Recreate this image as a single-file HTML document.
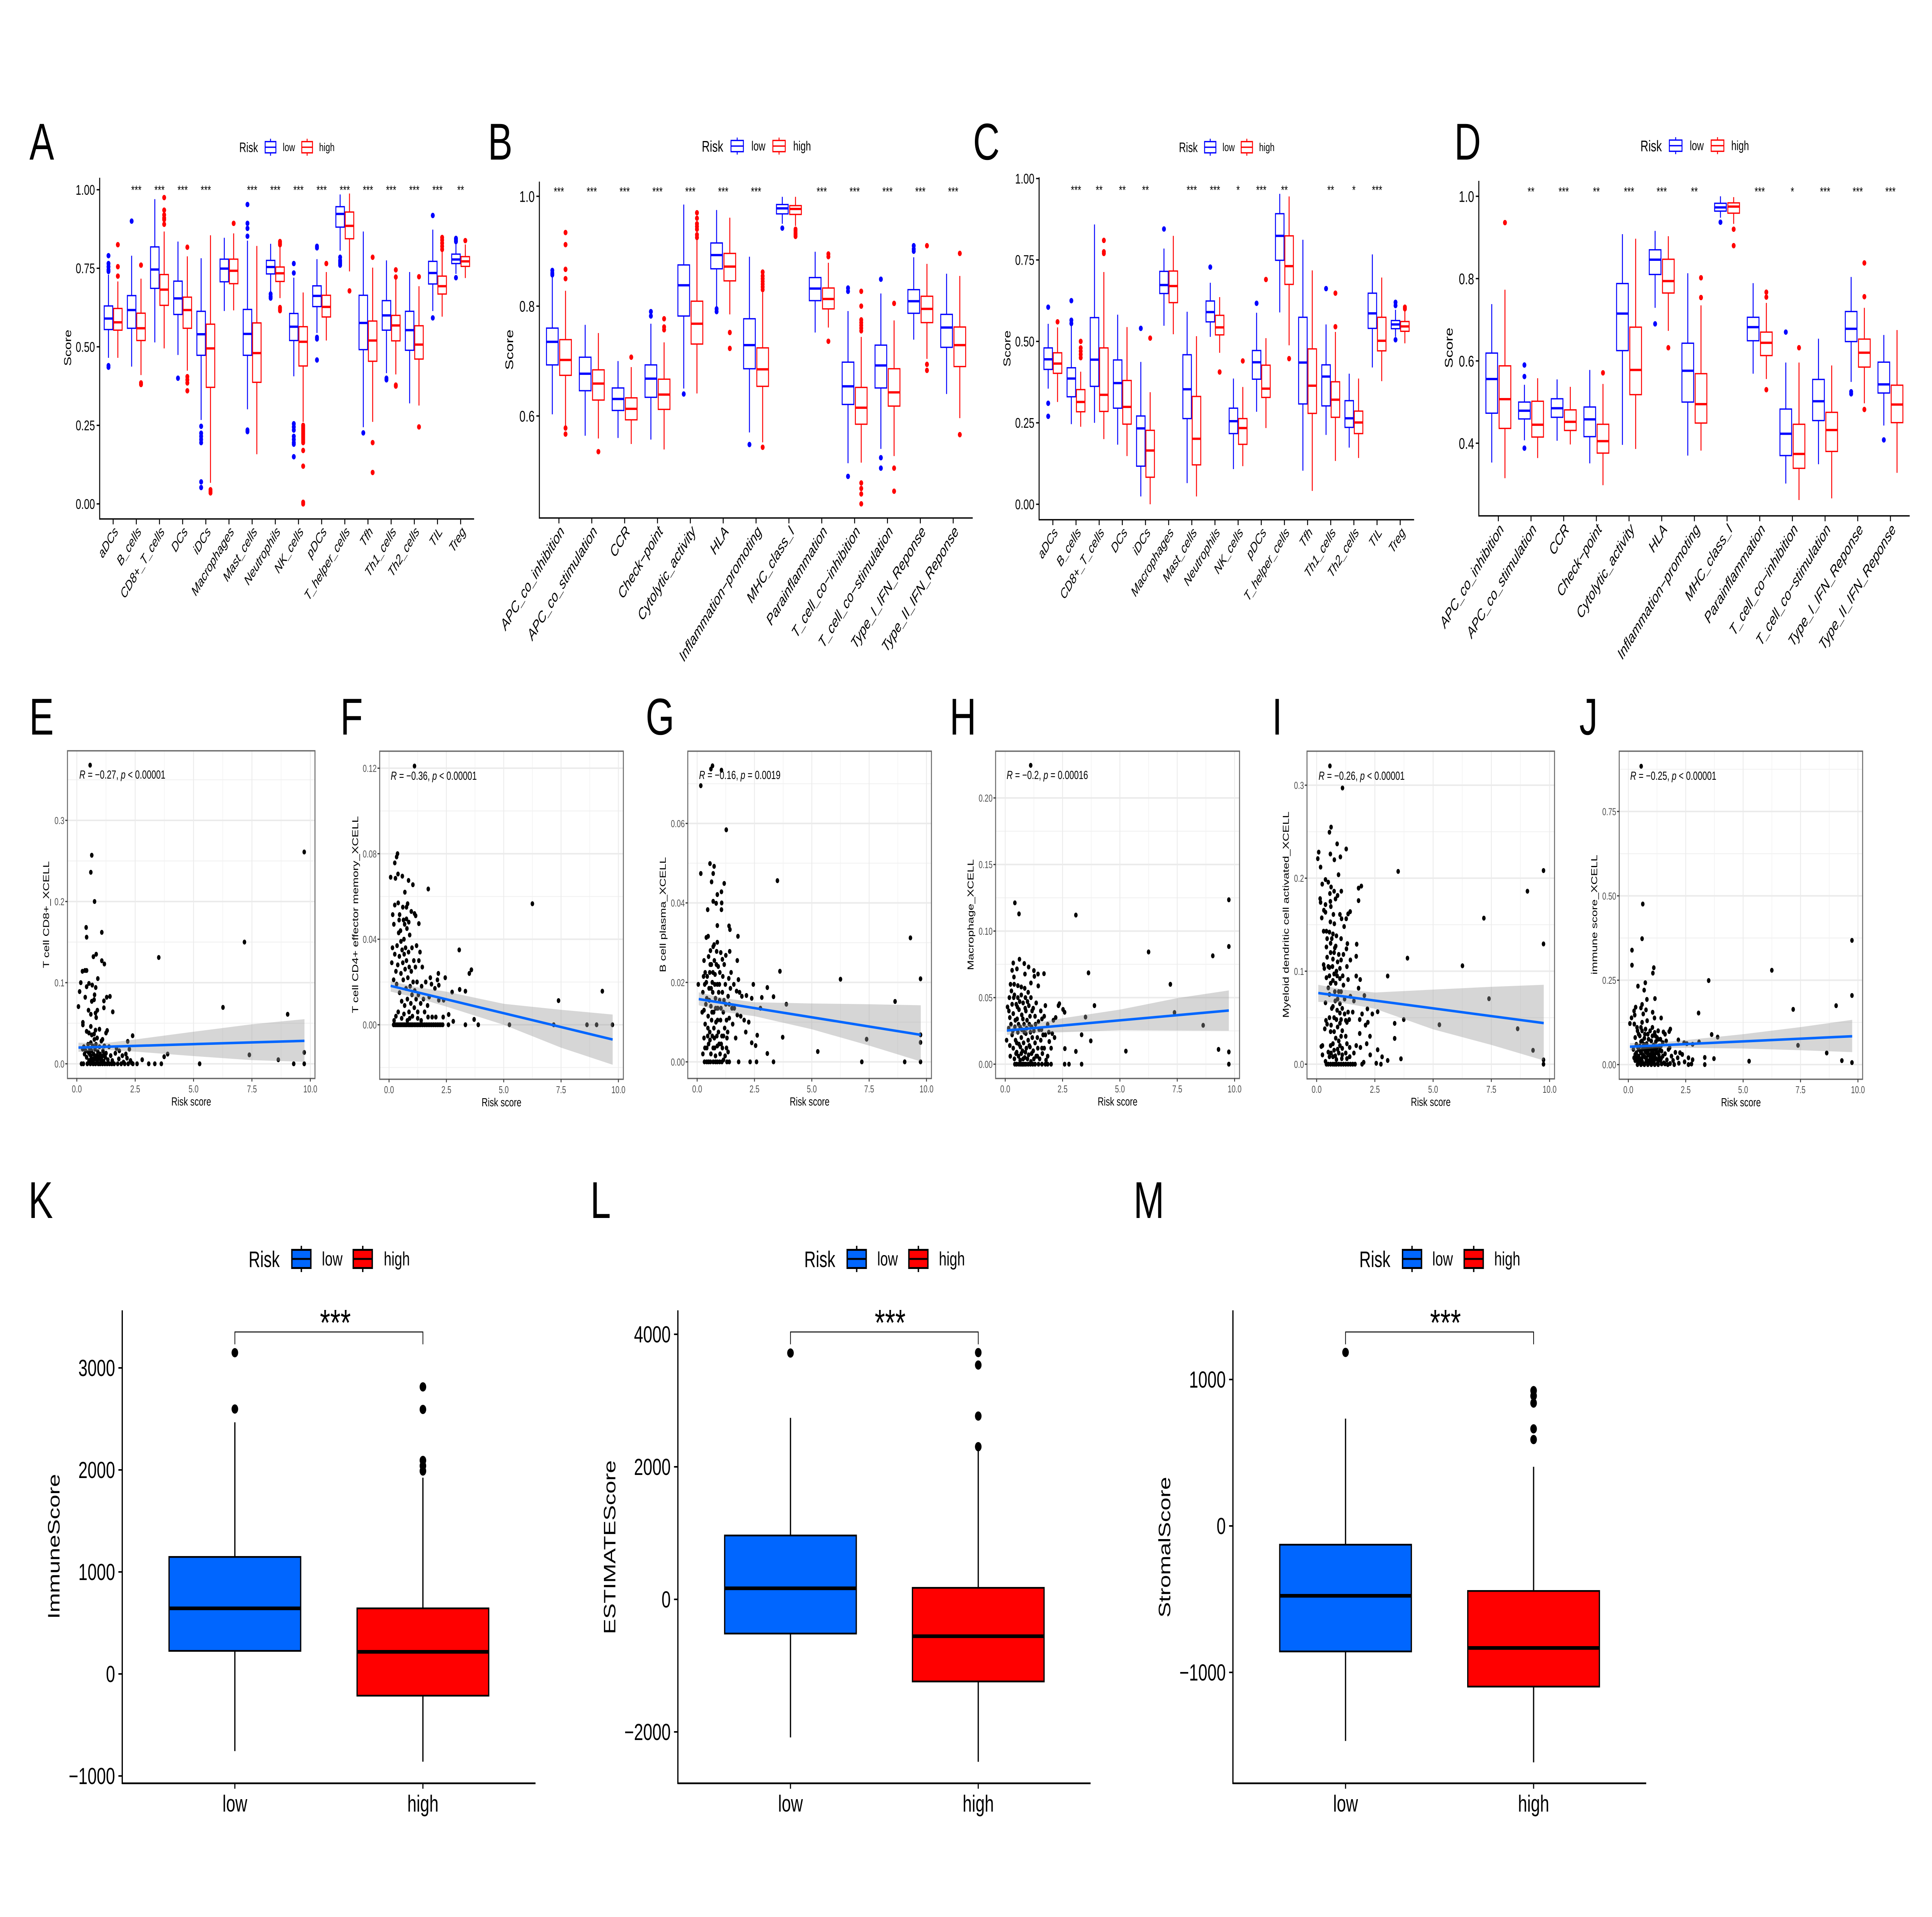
<!DOCTYPE html>
<html lang="en">
<head>
<meta charset="utf-8">
<title>Immune infiltration by risk group</title>
<style>
html,body{margin:0;padding:0;background:#fff;width:100%;height:100%;overflow:hidden;}
svg{display:block;width:100vw;height:100vh;font-family:"Liberation Sans",sans-serif;}
</style>
</head>
<body>
<svg id="figure" xmlns="http://www.w3.org/2000/svg" viewBox="0 0 7017 4961" preserveAspectRatio="none">
<rect x="0" y="0" width="7017" height="4961" fill="#fff"/>
<g font-size="134" fill="#000">
<text x="107" y="413">A</text>
<text x="1772" y="413">B</text>
<text x="3534" y="413">C</text>
<text x="5282" y="413">D</text>
<text x="106" y="1901">E</text>
<text x="1236" y="1901">F</text>
<text x="2345" y="1901">G</text>
<text x="3449" y="1901">H</text>
<text x="4620" y="1901">I</text>
<text x="5736" y="1901">J</text>
<text x="103" y="3152">K</text>
<text x="2144" y="3152">L</text>
<text x="4117" y="3152">M</text>
</g>
</svg>
<script>
/* ---------- panels A and C: immune cells ---------- */
const cellCategories=["aDCs","B_cells","CD8+_T_cells","DCs","iDCs","Macrophages","Mast_cells","Neutrophils","NK_cells","pDCs","T_helper_cells","Tfh","Th1_cells","Th2_cells","TIL","Treg"];
const cellTickValues=[0,0.25,0.5,0.75,1];
const cellTickLabels=["0.00","0.25","0.50","0.75","1.00"];
/* each box: lower whisker, q1, median, q3, upper whisker */
const panelAStars=["","***","***","***","***","","***","***","***","***","***","***","***","***","***","**"];
const panelALow=[[.465,.555,.59,.63,.73],[.437,.559,.617,.663,.79],[.514,.686,.746,.818,.97],[.474,.603,.654,.709,.835],[.267,.473,.54,.613,.782],[.614,.707,.749,.779,.847],[.301,.473,.541,.619,.838],[.675,.732,.754,.775,.828],[.406,.52,.564,.606,.72],[.544,.628,.662,.694,.779],[.806,.881,.923,.946,.985],[.244,.491,.576,.664,.867],[.416,.553,.6,.647,.775],[.32,.489,.553,.613,.738],[.614,.7,.735,.772,.873],[.732,.765,.778,.795,.832]];
const panelAHigh=[[.465,.553,.578,.622,.708],[.41,.52,.559,.607,.717],[.495,.632,.682,.73,.867],[.424,.559,.617,.658,.788],[.067,.371,.495,.572,.855],[.616,.701,.742,.779,.861],[.158,.387,.48,.576,.821],[.655,.708,.734,.754,.82],[.261,.439,.516,.564,.673],[.52,.595,.627,.664,.738],[.74,.844,.885,.929,.988],[.261,.454,.52,.582,.752],[.412,.519,.568,.6,.717],[.313,.461,.507,.567,.693],[.596,.668,.693,.725,.82],[.719,.756,.772,.787,.826]];
const panelALowOutliers=[[.79,.765,.755,.745,.74,.44,.435],[.9],[],[.4],[.247,.225,.215,.205,.195,.07,.052],[],[.953,.893,.877,.852,.235,.23],[.668,.66,.655],[.765,.735,.255,.245,.235,.215,.205,.195,.19,.15],[.82,.815,.53,.525,.458],[.785,.775,.77,.765,.76],[.226],[.4,.395],[],[.918,.592],[.845,.84,.835,.72]];
const panelAHighOutliers=[[.825,.755,.725],[.76,.385,.38],[.975,.935,.92,.91,.905,.89],[.817,.405,.395,.385,.36],[.045,.04,.035],[.893],[],[.835,.83,.825,.625,.62,.615],[.25,.245,.24,.235,.23,.225,.22,.215,.21,.205,.2,.195,.17,.12,.005,0],[.765],[.678],[.785,.195,.1],[.745,.722,.378,.375],[.723,.245],[.848,.84,.83,.82,.81],[.838]];

const panelCStars=["","***","**","**","**","","***","***","*","***","**","","**","*","***",""];
const panelCLow=[[.355,.414,.445,.48,.554],[.246,.33,.386,.419,.548],[.25,.362,.444,.573,.859],[.183,.295,.372,.443,.582],[.024,.117,.233,.271,.437],[.548,.647,.673,.715,.785],[.065,.263,.353,.459,.591],[.514,.56,.59,.624,.68],[.108,.217,.255,.295,.386],[.284,.384,.436,.472,.588],[.589,.749,.824,.892,.953],[.103,.308,.435,.574,.812],[.213,.302,.392,.428,.552],[.174,.236,.264,.318,.401],[.42,.54,.586,.648,.767],[.514,.539,.552,.564,.597]];
const panelCHigh=[[.314,.402,.432,.465,.543],[.238,.284,.314,.352,.407],[.2,.285,.336,.48,.713],[.148,.246,.299,.38,.544],[0,.083,.165,.227,.344],[.522,.619,.67,.716,.824],[.024,.121,.201,.331,.516],[.465,.52,.543,.58,.636],[.117,.184,.234,.263,.36],[.234,.328,.355,.427,.51],[.488,.675,.731,.824,.945],[.041,.279,.364,.477,.718],[.133,.267,.321,.376,.529],[.142,.217,.251,.286,.386],[.378,.471,.502,.574,.696],[.494,.531,.546,.561,.596]];
const panelCLowOutliers=[[.605,.31,.27],[.625,.565,.555],[],[],[.54],[.845],[],[.728],[],[.617],[],[],[.662],[],[],[.62,.61,.505]];
const panelCHighOutliers=[[.56],[.5,.48,.47,.46,.45],[.81,.775,.77],[],[.51],[],[],[.406],[.44],[.69],[.447],[],[.648,.545],[],[],[.605,.6]];

/* ---------- panels B and D: immune functions ---------- */
const functionCategories=["APC_co_inhibition","APC_co_stimulation","CCR","Check\u2212point","Cytolytic_activity","HLA","Inflammation\u2212promoting","MHC_class_I","Parainflammation","T_cell_co\u2212inhibition","T_cell_co\u2212stimulation","Type_I_IFN_Reponse","Type_II_IFN_Reponse"];
const panelBTickValues=[0.6,0.8,1];
const panelBTickLabels=["0.6","0.8","1.0"];
const panelBStars=["***","***","***","***","***","***","***","","***","***","***","***","***"];
const panelBLow=[[.603,.693,.735,.76,.855],[.564,.646,.677,.707,.766],[.56,.61,.631,.651,.7],[.557,.634,.668,.693,.768],[.65,.782,.838,.875,.985],[.798,.868,.893,.915,.975],[.57,.686,.729,.777,.89],[.95,.968,.978,.985,.999],[.752,.81,.832,.852,.899],[.514,.621,.654,.698,.791],[.54,.651,.692,.729,.823],[.739,.787,.809,.83,.889],[.64,.725,.761,.785,.859]];
const panelBHigh=[[.582,.674,.702,.739,.828],[.559,.629,.659,.684,.751],[.549,.593,.613,.633,.689],[.539,.612,.639,.667,.734],[.641,.731,.768,.809,.923],[.785,.846,.872,.896,.961],[.552,.654,.685,.724,.825],[.946,.967,.977,.983,.999],[.761,.795,.813,.833,.879],[.515,.585,.615,.652,.744],[.527,.618,.643,.686,.774],[.704,.77,.795,.818,.877],[.596,.69,.729,.762,.855]];
const panelBLowOutliers=[[.865,.86,.857],[],[],[.79,.782],[.64],[.795,.79],[.548],[.942],[],[.833,.827,.49],[.849,.524,.505],[.91,.904,.9],[]];
const panelBHighOutliers=[[.934,.912,.867,.85,.578,.567],[.535],[.707],[.777,.762,.757],[.97,.96,.95,.945,.94,.93,.925],[.752,.723],[.862,.855,.85,.845,.84,.835,.83,.543],[.94,.937,.933,.93,.927],[.895,.89,.736],[.827,.8,.775,.77,.765,.76,.755,.478,.468,.458,.44],[.805,.505,.463],[.91,.694,.683],[.896,.566]];

const panelDTickValues=[0.4,0.6,0.8,1];
const panelDTickLabels=["0.4","0.6","0.8","1.0"];
const panelDStars=["","**","***","**","***","***","**","","***","*","***","***","***"];
const panelDLow=[[.353,.473,.556,.619,.738],[.407,.459,.479,.5,.542],[.406,.463,.485,.508,.555],[.351,.416,.458,.488,.578],[.396,.625,.715,.788,.908],[.729,.81,.846,.87,.916],[.37,.5,.576,.643,.813],[.948,.964,.973,.983,1],[.569,.649,.682,.706,.789],[.302,.37,.423,.483,.596],[.349,.455,.502,.555,.654],[.549,.647,.678,.72,.804],[.443,.522,.543,.597,.663]];
const panelDHigh=[[.315,.436,.507,.588,.773],[.364,.415,.445,.502,.558],[.397,.431,.452,.481,.537],[.298,.376,.405,.446,.544],[.386,.518,.578,.682,.897],[.673,.765,.794,.847,.903],[.382,.449,.495,.569,.735],[.933,.959,.975,.984,.998],[.556,.613,.644,.67,.741],[.262,.339,.374,.446,.596],[.266,.38,.432,.475,.589],[.497,.585,.62,.653,.729],[.328,.45,.494,.541,.675]];
const panelDLowOutliers=[[],[.59,.562,.388],[],[],[],[.69],[],[.937],[],[.67],[],[.525,.52],[.408]];
const panelDHighOutliers=[[.936],[],[],[.571],[],[.632],[.802,.754],[.92,.88],[.767,.755,.53],[.632],[],[.838,.756,.482],[]];

/* ---------- panels E-J: scatter plots ---------- */
const riskTickValues=[0,2.5,5,7.5,10];
const riskTickLabels=["0.0","2.5","5.0","7.5","10.0"];
const riskMinorValues=[1.25,3.75,6.25,8.75];
const fitX=[0.07,9.75];
const ribbonX=[0.07,1.2,2.5,5,7.5,9.75];

const scatterETicks=[0,0.1,0.2,0.3];
const scatterETickLabels=["0.0","0.1","0.2","0.3"];
const scatterEMinor=[0.05,0.15,0.25,0.35];
const fitE=[0.02,0.0283];
const ribbonEUpper=[.026,.0255,.03,.0395,.0487,.055];
const ribbonELower=[.0147,.017,.015,.0095,.0045,.0025];
const scatterE=[[.57,.368],[.64,.257],[.6,.236],[9.74,.261],[.76,.2],[.4,.168],[1.07,.162],[.42,.156],[7.18,.15],[3.51,.131],[.71,.132],[.83,.135],[1.07,.127],[1.18,.123],[.24,.114],[.35,.115],[.42,.115],[.9,.105],[.17,.1],[.52,.099],[.66,.097],[.42,.095],[.81,.094],[.12,.089],[.76,.085],[1.42,.083],[1.28,.082],[.36,.082],[.74,.079],[.64,.077],[1.16,.0775],[.07,.0705],[6.26,.0695],[1.16,.069],[.88,.066],[.5,.066],[1.54,.064],[.8,.0625],[.6,.061],[9.03,.061],[.83,.057],[.26,.051],[.26,.048],[.6,.046],[.97,.0426],[.42,.04],[.8,.0415],[1.3,.041],[.52,.038],[.74,.0367],[1.25,.038],[2.39,.0346],[.64,.0356],[.87,.0318],[2.18,.0276],[1.1,.03],[9.74,.014],[7.39,.011],[3.89,.012],[3.74,.0087],[8.63,.005],[2.8,.005],[9.29,0],[9.74,0],[5.26,0],[3.62,0],[3.34,0],[3.08,0],[2.58,0],[2.4,0],[.2,0],[.28,0],[.33,.012],[.25,.018],[.3,.021],[.38,.016],[.42,.008],[.45,0],[.48,.024],[.5,.014],[.52,.004],[.55,.019],[.58,0],[.6,.01],[.6,.026],[.63,.016],[.65,.004],[.68,.022],[.7,0],[.72,.012],[.75,.007],[.75,.03],[.78,.018],[.8,0],[.82,.024],[.85,.01],[.88,.003],[.9,.015],[.92,0],[.95,.007],[.97,.021],[1,.012],[1,0],[1.03,.004],[1.05,.028],[1.08,.009],[1.1,0],[1.12,.016],[1.15,.003],[1.18,.022],[1.2,0],[1.22,.008],[1.25,.013],[1.3,0],[1.33,.005],[1.38,.021],[1.4,0],[1.45,.01],[1.5,0],[1.52,.004],[1.6,0],[1.65,.013],[1.7,.019],[1.75,0],[1.8,.006],[1.82,.016],[1.9,0],[1.95,.01],[2,.002],[2.05,0],[2.1,.012],[2.15,.007],[2.2,0],[2.25,.018],[2.3,.004],[2.35,.001],[.72,.005],[.9,.009],[1.05,.006],[.62,.007],[.55,.012],[.82,.006],[1.15,.011]];

const scatterFTicks=[0,0.04,0.08,0.12];
const scatterFTickLabels=["0.00","0.04","0.08","0.12"];
const scatterFMinor=[-0.02,0.02,0.06,0.1];
const fitF=[0.0182,-0.0069];
const ribbonFUpper=[.0204,.0176,.0155,.0098,.007,.0048];
const ribbonFLower=[.0155,.0126,.0085,0,-.0107,-.0187];
const scatterF=[[1.11,.121],[.37,.08],[.33,.0785],[.25,.0757],[.07,.069],[.28,.0685],[.39,.0705],[.58,.0695],[.85,.0675],[1.04,.0655],[.69,.062],[1.71,.0635],[6.25,.0566],[.25,.056],[.4,.057],[.6,.055],[.81,.0566],[.76,.055],[.97,.053],[1.11,.052],[1.16,.051],[.16,.0515],[.46,.0515],[.44,.049],[.63,.049],[.76,.0495],[1.3,.0473],[.21,.047],[.68,.047],[.86,.048],[3.06,.035],[3.59,.0257],[3.5,.024],[2.15,.024],[1.8,.022],[2.45,.022],[2.11,.021],[1.85,.019],[2.17,.0185],[2,.017],[3.08,.0165],[3.33,.0157],[2.75,.0153],[9.3,.0157],[7.39,.0113],[2.17,.0115],[2.38,.0115],[2.6,.0048],[2.36,.0036],[2.04,.0036],[1.88,.0036],[1.7,.0036],[3.71,.0025],[2.8,.0016],[2.59,0],[3.33,0],[3.89,0],[5.25,0],[7.18,0],[8.63,0],[9.05,0],[9.74,0],[.12,.029],[.15,.036],[.2,.021],[.25,.033],[.3,.025],[.33,.019],[.35,.037],[.38,.028],[.42,.043],[.45,.032],[.46,.015],[.5,.044],[.52,.039],[.52,.024],[.55,.011],[.57,.035],[.6,.029],[.62,.021],[.65,.04],[.66,.033],[.68,.009],[.7,.026],[.72,.036],[.74,.017],[.76,.03],[.78,.045],[.8,.012],[.82,.022],[.85,.034],[.87,.006],[.88,.027],[.9,.042],[.92,.018],[.95,.01],[.97,.025],[1,.036],[1,.014],[1.02,.004],[1.05,.02],[1.08,.03],[1.1,.008],[1.12,.016],[1.15,.027],[1.18,.012],[1.2,.037],[1.22,.02],[1.25,.006],[1.28,.014],[1.3,.03],[1.35,.034],[1.38,.01],[1.42,.018],[1.45,.027],[1.5,.012],[1.55,.006],[1.6,.02],[1.68,.009],[1.75,.013],[.22,.002],[.3,.004],[.4,.006],[.55,.003],[.65,.005],[.8,.002],[.9,.003],[1.25,.003],[1.4,.002],[.2,0],[.27,0],[.34,0],[.4,0],[.47,0],[.53,0],[.6,0],[.66,0],[.72,0],[.78,0],[.85,0],[.91,0],[.97,0],[1.03,0],[1.1,0],[1.17,0],[1.24,0],[1.31,0],[1.38,0],[1.46,0],[1.54,0],[1.62,0],[1.7,0],[1.78,0],[1.86,0],[1.94,0],[2.02,0],[2.1,0],[2.18,0],[2.26,0],[2.34,0]];

const scatterGTicks=[0,0.02,0.04,0.06];
const scatterGTickLabels=["0.00","0.02","0.04","0.06"];
const scatterGMinor=[0.01,0.03,0.05,0.07];
const fitG=[0.0158,0.0068];
const ribbonGUpper=[.0175,.016,.015,.0147,.0145,.01425];
const ribbonGLower=[.01425,.0125,.0115,.0082,.0041,.0001];
const scatterG=[[.67,.0745],[.6,.0737],[1.06,.0734],[.16,.0695],[1.27,.0584],[.56,.0499],[.74,.0492],[.16,.0474],[.7,.0474],[.63,.0453],[1.18,.0449],[3.5,.0456],[1.06,.0428],[.88,.0421],[.7,.0404],[.83,.0399],[1.07,.04],[.46,.0383],[1.06,.0383],[.88,.0343],[1.39,.0342],[1.43,.0333],[.48,.0316],[.4,.0313],[1.78,.0316],[9.3,.0312],[.88,.0301],[.74,.0295],[3.61,.0228],[6.25,.0208],[9.74,.0209],[.05,.0195],[2.45,.0195],[3.06,.0187],[1.8,.0207],[8.63,.0152],[3.89,.0145],[3.33,.0164],[2.82,.0162],[2.76,.0135],[2.38,.016],[2.15,.0167],[1.95,.0165],[1.72,.0178],[2.62,.0067],[3.73,.0062],[9.74,.0068],[7.39,.0057],[9.74,.0049],[5.26,.0026],[3.06,.0021],[2.55,.0041],[2.38,.0048],[7.18,0],[9.05,0],[9.74,0],[3.33,0],[2.59,0],[2.31,0],[1.81,0],[.3,.0255],[.35,.0225],[.28,.0215],[.4,.02],[.5,.0265],[.55,.0225],[.58,.028],[.62,.0245],[.66,.02],[.7,.029],[.75,.0255],[.78,.022],[.85,.0278],[.92,.024],[.97,.0195],[1.03,.0275],[1.1,.0258],[1.18,.0245],[1.25,.0268],[1.42,.0278],[1.38,.021],[1.75,.0255],[.22,.0125],[.3,.013],[.35,.0095],[.42,.016],[.48,.0115],[.52,.0185],[.55,.0075],[.6,.014],[.63,.0105],[.68,.0175],[.72,.0125],[.75,.006],[.8,.016],[.82,.01],[.88,.0195],[.9,.0135],[.93,.0075],[.98,.0155],[1.02,.0105],[1.05,.0045],[1.1,.0175],[1.14,.0125],[1.2,.0085],[1.25,.0145],[1.3,.006],[1.35,.0165],[1.4,.011],[1.45,.0185],[1.55,.0095],[1.62,.0135],[1.68,.006],[1.75,.0118],[1.9,.0115],[2.05,.0105],[2.12,.0075],[2.25,.01],[1.6,.0195],[1.85,.0175],[.3,.006],[.42,.0035],[.5,.0045],[.6,.002],[.7,.0035],[.8,.0015],[.88,.004],[1,.002],[1.1,.0035],[1.22,.0015],[1.35,.0025],[.25,.002],[.32,0],[.42,0],[.5,0],[.58,0],[.7,0],[.8,0],[.88,0],[.98,0],[1.08,0],[1.15,.0005],[1.3,0],[1.4,0],[.25,.0175],[.33,.0195],[.38,.0145],[.44,.0215],[.47,.0085],[.53,.0155],[.57,.0245],[.61,.0185],[.65,.0125],[.69,.0225],[.73,.0085],[.77,.0195],[.81,.0135],[.84,.0245],[.89,.0105],[.94,.0175],[.99,.0225],[1.04,.0135],[1.08,.0065],[1.12,.0215],[1.17,.0155],[1.23,.0195],[1.28,.0105],[1.33,.0075],[1.4,.0145],[1.48,.0225],[1.52,.0135],[.34,.0035],[.46,.0065],[.56,.0055],[.66,.0065],[.76,.0035],[.86,.0065],[.96,.0045],[1.15,.0065],[1.28,.0035]];

const scatterHTicks=[0,0.05,0.1,0.15,0.2];
const scatterHTickLabels=["0.00","0.05","0.10","0.15","0.20"];
const scatterHMinor=[0.025,0.075,0.125,0.175];
const fitH=[0.0253,0.0403];
const ribbonHUpper=[.0288,.0305,.0345,.041,.0496,.0554];
const ribbonHLower=[.022,.0235,.024,.0255,.0253,.0251];
const scatterH=[[1.11,.2245],[.42,.1212],[.6,.1129],[3.08,.112],[9.75,.1235],[9.75,.0884],[6.25,.0843],[9.05,.0814],[3.63,.0686],[7.2,.06],[.62,.0788],[.35,.076],[.83,.0756],[1.02,.073],[.3,.0705],[.51,.0716],[1.25,.0703],[1.69,.068],[.86,.0677],[1.43,.0677],[.38,.0655],[1.27,.066],[1.44,.0588],[.23,.06],[.39,.06],[.55,.059],[.7,.058],[.85,.057],[1.12,.061],[3.89,.044],[2.36,.0454],[2.32,.044],[2.52,.0411],[2.59,.039],[7.38,.0388],[3.5,.0354],[8.63,.0292],[3.33,.0221],[3.73,.0175],[5.26,.0098],[3.08,.0096],[2.6,.0117],[9.3,.0111],[9.75,.0092],[9.75,0],[3.33,0],[2.78,0],[2.59,0],[.06,.018],[.1,.043],[.16,.04],[.2,.035],[.25,.03],[.3,.045],[.35,.038],[.4,.052],[.42,.028],[.48,.045],[.52,.034],[.55,.05],[.6,.041],[.65,.028],[.7,.052],[.72,.037],[.78,.046],[.82,.03],[.88,.05],[.9,.04],[.95,.033],[1,.054],[1.03,.044],[1.08,.036],[1.12,.05],[1.15,.028],[1.22,.042],[1.3,.036],[1.35,.046],[1.45,.032],[1.55,.04],[1.6,.034],[1.7,.036],[1.75,.044],[1.85,.03],[2.1,.033],[2.2,.035],[.2,.014],[.22,.006],[.3,.022],[.35,.012],[.4,.004],[.45,.018],[.5,.009],[.55,.024],[.6,.015],[.65,.003],[.7,.02],[.75,.01],[.8,.016],[.85,.005],[.9,.023],[.92,.012],[1,.018],[1.02,.007],[1.08,.013],[1.12,.002],[1.18,.02],[1.22,.01],[1.3,.016],[1.35,.006],[1.42,.012],[1.5,.004],[1.55,.018],[1.62,.008],[1.7,.012],[1.75,.022],[1.85,.006],[1.92,.017],[2,.012],[2.05,.023],[2.15,.02],[1.78,.003],[.42,0],[.5,0],[.6,0],[.68,0],[.75,0],[.82,0],[.9,0],[1,0],[1.1,0],[1.2,0],[1.3,0],[1.45,0],[1.6,0],[1.75,0],[1.85,0],[2,0],[.15,.027],[.18,.05],[.27,.055],[.33,.025],[.37,.05],[.44,.033],[.47,.008],[.53,.043],[.58,.03],[.63,.047],[.66,.013],[.72,.026],[.77,.034],[.83,.024],[.87,.042],[.93,.027],[.97,.047],[1.05,.03],[1.1,.024],[1.17,.04],[1.25,.025],[1.32,.03],[1.4,.02],[1.48,.026],[1.58,.026],[1.65,.022],[1.9,.024],[.5,.016],[.58,.006],[.7,.008],[.78,.004],[.88,.009],[.97,.004],[1.05,.014],[1.15,.008],[1.25,.004],[1.4,.006],[1.6,.012]];

const scatterITicks=[0,0.1,0.2,0.3];
const scatterITickLabels=["0.0","0.1","0.2","0.3"];
const scatterIMinor=[0.05,0.15,0.25];
const fitI=[0.0765,0.0442];
const ribbonIUpper=[.0854,.08,.0771,.0802,.0832,.0854];
const ribbonILower=[.067,.0655,.0597,.0375,.0207,.004];
const scatterI=[[.57,.3207],[1.11,.297],[.62,.2549],[.55,.2494],[.88,.2369],[1.27,.2314],[.09,.228],[.59,.226],[1.02,.2229],[.05,.221],[.76,.2198],[.17,.2119],[3.5,.2073],[9.74,.2082],[.94,.2037],[.38,.1985],[.5,.1957],[.24,.1936],[.62,.1905],[1.92,.1915],[1.8,.1893],[9.05,.186],[1.06,.186],[.75,.186],[.57,.1835],[.9,.1814],[.81,.1777],[.15,.178],[.17,.174],[1.8,.1759],[.59,.175],[.38,.1716],[.61,.1695],[.31,.1655],[.38,.1634],[1.44,.164],[1.35,.1616],[1,.161],[.72,.161],[.22,.1573],[1.07,.1564],[1.27,.1564],[7.18,.157],[.59,.153],[.76,.151],[1.18,.148],[.3,.143],[.42,.143],[.55,.142],[.7,.14],[.85,.138],[1.05,.135],[1.32,.1296],[1.72,.129],[9.74,.1293],[.6,.13],[.82,.127],[.42,.126],[1.28,.124],[.6,.12],[.75,.12],[.95,.118],[1.15,.118],[.45,.115],[.7,.113],[1.7,.116],[3.9,.114],[1.05,.112],[1.45,.112],[1.3,.105],[.3,.107],[.33,.103],[.55,.104],[.85,.1],[1.0,.103],[6.26,.1058],[3.05,.0948],[1.7,.0948],[1.87,.091],[1.35,.091],[1.0,.092],[.42,.093],[.7,.09],[.82,.087],[1.15,.085],[1.8,.0817],[.5,.082],[.95,.078],[2.05,.0738],[7.4,.0704],[1.45,.073],[1.6,.068],[.38,.066],[.8,.068],[1.0,.065],[.65,.06],[1.1,.06],[1.35,.056],[1.55,.056],[1.95,.054],[2.62,.0564],[2.39,.054],[2.18,.0595],[3.74,.048],[3.35,.0439],[5.27,.0424],[8.63,.0381],[3.35,.0277],[2.29,.03],[.4,.047],[.45,.043],[.35,.038],[.6,.035],[.85,.048],[1.0,.044],[1.25,.047],[1.4,.048],[1.85,.048],[2.2,.045],[.75,.035],[.95,.025],[1.05,.03],[1.25,.03],[1.85,.033],[2.1,.042],[.6,.02],[.2,.019],[.25,.02],[.75,.015],[.9,.016],[1.1,.017],[1.42,.018],[1.7,.02],[1.88,.018],[2.15,.022],[2.62,.0155],[9.29,.0149],[2.81,.0079],[3.62,.0058],[3.05,.004],[2.56,.001],[2.76,0],[9.74,.0046],[9.74,0],[.25,.01],[.38,.003],[.55,.008],[.62,.012],[.8,.009],[.95,.012],[1.08,.006],[1.25,.012],[1.42,.008],[1.6,.012],[2.3,.01],[.42,0],[.5,0],[.6,0],[.7,0],[.78,0],[.85,0],[.95,0],[1.05,0],[1.15,0],[1.25,0],[1.35,0],[1.45,0],[1.55,0],[1.65,0],[1.95,0],[2.02,.002],[.45,.135],[.65,.135],[.78,.125],[.9,.11],[.5,.105],[.68,.105],[.55,.095],[.75,.097],[.88,.095],[1.12,.095],[.6,.087],[.78,.078],[1.05,.078],[.55,.075],[.9,.07],[1.2,.07],[.7,.062],[.88,.058],[1.0,.055],[1.2,.054],[.75,.05],[1.05,.048],[1.3,.045],[.55,.05],[.62,.042],[.9,.04],[1.1,.036],[.82,.028],[.7,.022],[1.0,.02],[1.3,.022],[.5,.013],[.7,.008],[.85,.005],[1.1,.01],[1.3,.006]];

const scatterJTicks=[0,0.25,0.5,0.75];
const scatterJTickLabels=["0.00","0.25","0.50","0.75"];
const scatterJMinor=[0.125,0.375,0.625,0.875];
const fitJ=[0.0529,0.0839];
const ribbonJUpper=[.0638,.0645,.0725,.09,.111,.1326];
const ribbonJLower=[.042,.0485,.0495,.0475,.0425,.0369];
const scatterJ=[[.56,.884],[.63,.4757],[.6,.373],[9.74,.368],[.16,.339],[.16,.2945],[1.11,.287],[1.07,.271],[6.25,.2794],[3.5,.249],[.74,.2424],[.42,.2324],[.69,.2206],[9.74,.2047],[1.16,.1955],[.81,.193],[9.05,.1745],[.6,.178],[7.18,.1636],[.32,.17],[.25,.159],[.55,.168],[.77,.162],[1.06,.155],[3.06,.1527],[.07,.1216],[.14,.1384],[.28,.1468],[.65,.15],[1.14,.138],[1.43,.138],[.82,.13],[.26,.12],[.6,.125],[1.83,.105],[1.78,.098],[1.53,.0965],[3.63,.089],[3.89,.0814],[3.08,.067],[2.8,.06],[2.18,.073],[2.43,.0646],[2.55,.062],[7.39,.057],[8.64,.0344],[3.33,.021],[3.73,.0176],[2.8,.0143],[2.62,.02],[9.3,.0117],[9.74,.0059],[5.26,.01],[3.33,0],[2.75,.0017],[2.62,0],[.3,.08],[.35,.06],[.4,.1],[.45,.045],[.5,.085],[.55,.068],[.6,.1],[.65,.055],[.7,.078],[.75,.105],[.8,.062],[.85,.09],[.9,.05],[.95,.1],[1,.07],[1.05,.085],[1.1,.058],[1.15,.095],[1.2,.068],[1.25,.08],[1.3,.1],[1.35,.055],[1.4,.075],[1.5,.065],[1.65,.07],[1.8,.05],[.22,.045],[.25,.02],[.3,.012],[.35,.035],[.4,.01],[.45,.025],[.5,.005],[.52,.04],[.58,.018],[.62,.03],[.65,.003],[.7,.045],[.72,.022],[.78,.01],[.8,.035],[.85,.005],[.88,.028],[.92,.045],[.95,.015],[1,.032],[1.02,.002],[1.05,.022],[1.08,.042],[1.12,.01],[1.15,.03],[1.2,.018],[1.22,.048],[1.28,.005],[1.3,.036],[1.35,.02],[1.4,.012],[1.45,.04],[1.5,.025],[1.55,.005],[1.6,.032],[1.68,.014],[1.75,.045],[1.82,.003],[1.88,.025],[1.95,.012],[2.05,.036],[2.15,.02],[2.25,.035],[2.35,.03],[2.45,.008],[.5,.055],[.68,.06],[.82,.05],[.98,.052],[1.12,.045],[1.25,.05],[1.42,.055],[.4,0],[.55,0],[.7,0],[.85,0],[1,0],[1.15,0],[1.3,0],[1.45,.002],[1.6,.002],[1.72,0],[2,0],[2.2,.004],[.3,.03],[.38,.02],[.42,.05],[.48,.015],[.55,.035],[.6,.01],[.62,.045],[.68,.025],[.75,.038],[.78,.02],[.83,.012],[.85,.042],[.9,.03],[.93,.008],[.97,.022],[1.03,.04],[1.06,.012],[1.1,.028],[1.13,.05],[1.17,.018],[1.22,.035],[1.27,.015],[1.33,.028],[1.38,.042],[1.43,.018],[.6,.07],[.72,.09],[.88,.075],[1.05,.11],[1.18,.085],[.45,.09],[.55,.11],[1.3,.075],[1.6,.09],[.38,.11]];

/* ---------- panels K-M: score boxplots ---------- */
const scoreCategories=["low","high"];
const immuneTicks=[-1000,0,1000,2000,3000];
const immuneTickLabels=["\u22121000","0","1000","2000","3000"];
const immuneBoxes=[[-756,226,643,1147,2467],[-860,-213,217,643,1924]];
const immuneOutliers=[[3149,2597],[2814,2593,2093,2040,1989]];
const estimateTicks=[-2000,0,2000,4000];
const estimateTickLabels=["\u22122000","0","2000","4000"];
const estimateBoxes=[[-2083,-516,167,964,2739],[-2451,-1239,-556,174,2257]];
const estimateOutliers=[[3717],[3724,3536,2766,2304]];
const stromalTicks=[-1000,0,1000];
const stromalTickLabels=["\u22121000","0","1000"];
const stromalBoxes=[[-1468,-857,-477,-128,733],[-1614,-1097,-833,-444,404]];
const stromalOutliers=[[1185],[924,888,839,663,590]];

/* ---------- drawing ---------- */
const NS='http://www.w3.org/2000/svg';
const svg=document.getElementById('figure');
const LOW='#0000ff',HIGH='#ff0000';
function mk(tag,attrs,parent,text){
  const e=document.createElementNS(NS,tag);
  for(const k in attrs)e.setAttribute(k,attrs[k]);
  if(text!==undefined)e.textContent=text;
  (parent||svg).appendChild(e);
  return e;
}
function linear(v0,p0,v1,p1){return v=>p0+(v-v0)*(p1-p0)/(v1-v0);}

function drawOneBox(g,stats,outliers,cx,w,y,color){
  const whisker=mk('line',{x1:cx,x2:cx,y1:y(stats[0]),y2:y(stats[4]),stroke:color,'stroke-width':3.4},g);
  
  
  const box=mk('rect',{x:cx-w/2,y:y(stats[3]),width:w,height:y(stats[1])-y(stats[3]),fill:'#fff',stroke:color,'stroke-width':3.4},g);
  
  
  const median=mk('line',{x1:cx-w/2,x2:cx+w/2,y1:y(stats[2]),y2:y(stats[2]),stroke:color,'stroke-width':6},g);
  
  
  outliers.forEach(o=>{
    const dot=mk('circle',{cx:cx,cy:y(o),r:7,fill:color},g);
    
    
  });
}

function drawRiskLegend(g,cfg){
  const risk=mk('text',{x:cfg.riskX,y:cfg.cy+cfg.riskFont*.36,'font-size':cfg.riskFont,fill:'#000'},g,'Risk');
  
  
  [[cfg.lowKey,cfg.lowText,'low',cfg.lowFill,cfg.lowStroke],[cfg.highKey,cfg.highText,'high',cfg.highFill,cfg.highStroke]].forEach(item=>{
    const key=mk('g',{},g);
    
    
    const cx=item[0]+cfg.keyW/2;
    mk('line',{x1:cx,x2:cx,y1:cfg.cy-cfg.whisk,y2:cfg.cy+cfg.whisk,stroke:item[4],'stroke-width':cfg.sw},key);
    mk('rect',{x:item[0],y:cfg.cy-cfg.keyH/2,width:cfg.keyW,height:cfg.keyH,fill:item[3],stroke:item[4],'stroke-width':cfg.sw},key);
    mk('line',{x1:item[0],x2:item[0]+cfg.keyW,y1:cfg.cy,y2:cfg.cy,stroke:item[4],'stroke-width':cfg.sw},key);
    const label=mk('text',{x:item[1],y:cfg.cy+cfg.textFont*.34,'font-size':cfg.textFont,fill:'#000'},g,item[2]);
    
    
  });
}

function drawBoxPanel(c){
  const g=mk('g',{},svg);
  
  
  const y=linear(c.v0,c.p0,c.v1,c.p1);
  const n=c.categories.length;
  const x=i=>c.first+i*(c.last-c.first)/(n-1);
  drawRiskLegend(g,{riskX:c.legend[0],lowKey:c.legend[1],lowText:c.legend[2],highKey:c.legend[3],highText:c.legend[4],cy:c.legend[5],keyW:c.legend[6],keyH:29,whisk:22,sw:3.4,riskFont:c.legendFont,textFont:c.legendFont*.85,lowFill:'#fff',highFill:'#fff',lowStroke:LOW,highStroke:HIGH});
  const yAxis=mk('line',{x1:c.ax,x2:c.ax,y1:c.top,y2:c.bottom+1.7,stroke:'#000','stroke-width':3.6},g);
  
  
  const xAxis=mk('line',{x1:c.ax,x2:c.right,y1:c.bottom,y2:c.bottom,stroke:'#000','stroke-width':3.6},g);
  
  
  c.ticks.forEach((v,i)=>{
    const t=mk('line',{x1:c.ax-11,x2:c.ax,y1:y(v),y2:y(v),stroke:'#000','stroke-width':3.4},g);
    
    
    const l=mk('text',{x:c.ax-17,y:y(v)+c.tickFont*.36,'text-anchor':'end','font-size':c.tickFont,fill:'#000'},g,c.tickLabels[i]);
    
    
  });
  const title=mk('text',{x:c.titleX,y:c.titleY,'text-anchor':'middle','font-size':c.tickFont,fill:'#000',transform:'rotate(-90 '+c.titleX+' '+c.titleY+')'},g,'Score');
  
  
  c.categories.forEach((name,i)=>{
    const px=x(i);
    const t=mk('line',{x1:px,x2:px,y1:c.bottom,y2:c.bottom+14,stroke:'#000','stroke-width':3.4},g);
    
    
    const ax=px+c.labelDx,ay=c.bottom+c.labelDy;
    const l=mk('text',{x:ax,y:ay,'text-anchor':'end','font-size':c.catFont,'font-style':'italic',fill:'#000',transform:'rotate(-50 '+ax+' '+ay+')'},g,name);
    
    
    if(c.stars[i]){
      const s=mk('text',{x:px,y:c.starY,'text-anchor':'middle','font-size':32,fill:'#000'},g,c.stars[i]);
      
      
    }
    drawOneBox(g,c.low[i],c.lowOut[i],px-c.off,c.boxW,y,LOW);
    drawOneBox(g,c.high[i],c.highOut[i],px+c.off,c.boxW,y,HIGH);
  });
}

drawBoxPanel({name:'panel-a-boxplot',categories:cellCategories,ticks:cellTickValues,tickLabels:cellTickLabels,stars:panelAStars,low:panelALow,high:panelAHigh,lowOut:panelALowOutliers,highOut:panelAHighOutliers,
  v0:0,p0:1304,v1:1,p1:491,ax:362,top:460,bottom:1343,right:1722,first:411,last:1673,off:17,boxW:31,tickFont:36,catFont:36,labelDx:20,labelDy:34,starY:503,titleX:258,titleY:900,legend:[869,963,1027,1096,1159,381,39],legendFont:35});
drawBoxPanel({name:'panel-b-boxplot',categories:functionCategories,ticks:panelBTickValues,tickLabels:panelBTickLabels,stars:panelBStars,low:panelBLow,high:panelBHigh,lowOut:panelBLowOutliers,highOut:panelBHighOutliers,
  v0:.6,p0:1076.5,v1:1,p1:508,ax:1959,top:470,bottom:1340.5,right:3533,first:2030,last:3462,off:24,boxW:42.5,tickFont:40,catFont:41,labelDx:22,labelDy:36,starY:507,titleX:1864,titleY:905,legend:[2549,2655,2729,2807,2881,378,45],legendFont:40});
drawBoxPanel({name:'panel-c-boxplot',categories:cellCategories,ticks:cellTickValues,tickLabels:cellTickLabels,stars:panelCStars,low:panelCLow,high:panelCHigh,lowOut:panelCLowOutliers,highOut:panelCHighOutliers,
  v0:0,p0:1305,v1:1,p1:462,ax:3774,top:459,bottom:1345,right:5136,first:3824,last:5085.5,off:17,boxW:31,tickFont:36,catFont:36,labelDx:20,labelDy:34,starY:503,titleX:3670,titleY:902,legend:[4282,4375,4440,4508,4573,381,41],legendFont:35});
drawBoxPanel({name:'panel-d-boxplot',categories:functionCategories,ticks:panelDTickValues,tickLabels:panelDTickLabels,stars:panelDStars,low:panelDLow,high:panelDHigh,lowOut:panelDLowOutliers,highOut:panelDHighOutliers,
  v0:.4,p0:1147,v1:1,p1:508,ax:5371,top:468,bottom:1335,right:6936,first:5442,last:6866,off:24,boxW:42.5,tickFont:40,catFont:41,labelDx:22,labelDy:36,starY:507,titleX:5276,titleY:900,legend:[5958,6063,6137,6215,6288,377,46],legendFont:40});

function drawScatter(c){
  const g=mk('g',{},svg);
  
  
  const x=linear(0,c.x0,10,c.x10);
  const y=linear(c.v0,c.p0,c.v1,c.p1);
  const bg=mk('rect',{x:c.l,y:c.t,width:c.r-c.l,height:c.b-c.t,fill:'#fff'},g);
  
  
  riskMinorValues.forEach(v=>{
    const gl=mk('line',{x1:x(v),x2:x(v),y1:c.t,y2:c.b,stroke:'#f2f2f2','stroke-width':2},g);
    
    
  });
  c.minor.forEach(v=>{
    if(y(v)<c.t||y(v)>c.b)return;
    const gl=mk('line',{x1:c.l,x2:c.r,y1:y(v),y2:y(v),stroke:'#f2f2f2','stroke-width':2.4},g);
    
    
  });
  riskTickValues.forEach(v=>{
    const gl=mk('line',{x1:x(v),x2:x(v),y1:c.t,y2:c.b,stroke:'#ebebeb','stroke-width':3},g);
    
    
  });
  c.ticks.forEach(v=>{
    const gl=mk('line',{x1:c.l,x2:c.r,y1:y(v),y2:y(v),stroke:'#ebebeb','stroke-width':4},g);
    
    
  });
  c.points.forEach(p=>{
    const dot=mk('circle',{cx:x(p[0]),cy:y(p[1]),r:6.4,fill:'#000'},g);
    
    
  });
  const up=ribbonX.map((v,i)=>x(v)+','+y(c.upper[i]));
  const lo=ribbonX.map((v,i)=>x(v)+','+y(c.lower[i])).reverse();
  const band=mk('polygon',{points:up.concat(lo).join(' '),fill:'#999','fill-opacity':.4},g);
  
  
  const fit=mk('line',{x1:x(fitX[0]),x2:x(fitX[1]),y1:y(c.fit[0]),y2:y(c.fit[1]),stroke:'#0066ff','stroke-width':6.5},g);
  
  
  const frame=mk('rect',{x:c.l,y:c.t,width:c.r-c.l,height:c.b-c.t,fill:'none',stroke:'#666','stroke-width':3.4},g);
  
  
  c.ticks.forEach((v,i)=>{
    const t=mk('line',{x1:c.l-8,x2:c.l,y1:y(v),y2:y(v),stroke:'#333','stroke-width':3},g);
    
    
    const l=mk('text',{x:c.l-11,y:y(v)+9.5,'text-anchor':'end','font-size':26,fill:'#4d4d4d'},g,c.tickLabels[i]);
    
    
  });
  riskTickValues.forEach((v,i)=>{
    const t=mk('line',{x1:x(v),x2:x(v),y1:c.b,y2:c.b+8,stroke:'#333','stroke-width':3},g);
    
    
    const l=mk('text',{x:x(v),y:c.b+36,'text-anchor':'middle','font-size':26,fill:'#4d4d4d'},g,riskTickLabels[i]);
    
    
  });
  const xt=mk('text',{x:(c.l+c.r)/2,y:c.b+70,'text-anchor':'middle','font-size':31,fill:'#000'},g,'Risk score');
  
  
  const yt=mk('text',{x:c.titleX,y:2367,'text-anchor':'middle','font-size':31,fill:'#000',textLength:c.titleLen,lengthAdjust:'spacingAndGlyphs',transform:'rotate(-90 '+c.titleX+' 2367)'},g,c.title);
  
  
  const note=mk('text',{x:c.noteX,y:c.noteY,'font-size':30.5,fill:'#000'},g);
  
  
  mk('tspan',{'font-style':'italic'},note,'R');
  mk('tspan',{},note,' = \u2212'+c.r2+', ');
  mk('tspan',{'font-style':'italic'},note,'p');
  mk('tspan',{},note,' '+c.pText);
}

drawScatter({name:'panel-e-scatter',points:scatterE,ticks:scatterETicks,tickLabels:scatterETickLabels,minor:scatterEMinor,fit:fitE,upper:ribbonEUpper,lower:ribbonELower,
  l:245,r:1144,t:1943,b:2791,x0:279,x10:1127,v0:0,p0:2753,v1:.3,p1:2123,title:'T cell CD8+_XCELL',titleX:178,titleLen:277,noteX:288,noteY:2015,r2:'0.27',pText:'< 0.00001'});
drawScatter({name:'panel-f-scatter',points:scatterF,ticks:scatterFTicks,tickLabels:scatterFTickLabels,minor:scatterFMinor,fit:fitF,upper:ribbonFUpper,lower:ribbonFLower,
  l:1379,r:2264,t:1944,b:2793,x0:1413,x10:2246,v0:0,p0:2652,v1:.12,p1:1988,title:'T cell CD4+ effector memory_XCELL',titleX:1301,titleLen:510,noteX:1419,noteY:2018,r2:'0.36',pText:'< 0.00001'});
drawScatter({name:'panel-g-scatter',points:scatterG,ticks:scatterGTicks,tickLabels:scatterGTickLabels,minor:scatterGMinor,fit:fitG,upper:ribbonGUpper,lower:ribbonGLower,
  l:2498,r:3383,t:1944,b:2791,x0:2532,x10:3365,v0:0,p0:2748,v1:.06,p1:2131,title:'B cell plasma_XCELL',titleX:2418,titleLen:298,noteX:2539,noteY:2016,r2:'0.16',pText:'= 0.0019'});
drawScatter({name:'panel-h-scatter',points:scatterH,ticks:scatterHTicks,tickLabels:scatterHTickLabels,minor:scatterHMinor,fit:fitH,upper:ribbonHUpper,lower:ribbonHLower,
  l:3616,r:4502,t:1944,b:2791,x0:3651,x10:4484,v0:0,p0:2754,v1:.2,p1:2065,title:'Macrophage_XCELL',titleX:3536,titleLen:287,noteX:3656,noteY:2016,r2:'0.2',pText:'= 0.00016'});
drawScatter({name:'panel-i-scatter',points:scatterI,ticks:scatterITicks,tickLabels:scatterITickLabels,minor:scatterIMinor,fit:fitI,upper:ribbonIUpper,lower:ribbonILower,
  l:4747,r:5646,t:1944,b:2792,x0:4782,x10:5628,v0:0,p0:2754,v1:.3,p1:2032,title:'Myeloid dendritic cell activated_XCELL',titleX:4681,titleLen:534,noteX:4789,noteY:2018,r2:'0.26',pText:'< 0.00001'});
drawScatter({name:'panel-j-scatter',points:scatterJ,ticks:scatterJTicks,tickLabels:scatterJTickLabels,minor:scatterJMinor,fit:fitJ,upper:ribbonJUpper,lower:ribbonJLower,
  l:5881,r:6765,t:1944,b:2793,x0:5914,x10:6748,v0:0,p0:2755,v1:.75,p1:2100,title:'immune score_XCELL',titleX:5801,titleLen:310,noteX:5921,noteY:2018,r2:'0.25',pText:'< 0.00001'});

function drawScorePanel(c){
  const g=mk('g',{},svg);
  
  
  const y=linear(c.v0,c.p0,c.v1,c.p1);
  const fills=['#0066ff','#ff0000'];
  const xs=[c.xLow,c.xHigh];
  drawRiskLegend(g,{riskX:c.legend[0],lowKey:c.legend[1],lowText:c.legend[2],highKey:c.legend[3],highText:c.legend[4],cy:3258,keyW:69,keyH:47,whisk:34,sw:5,riskFont:58,textFont:50,lowFill:fills[0],highFill:fills[1],lowStroke:'#000',highStroke:'#000'});
  const yAxis=mk('line',{x1:c.ax,x2:c.ax,y1:3391,y2:4617,stroke:'#000','stroke-width':4.5},g);
  
  
  const xAxis=mk('line',{x1:c.ax,x2:c.right,y1:4615,y2:4615,stroke:'#000','stroke-width':4.5},g);
  
  
  c.ticks.forEach((v,i)=>{
    const t=mk('line',{x1:c.ax-14,x2:c.ax,y1:y(v),y2:y(v),stroke:'#000','stroke-width':4},g);
    
    
    const l=mk('text',{x:c.ax-26,y:y(v)+21,'text-anchor':'end','font-size':60,fill:'#000'},g,c.tickLabels[i]);
    
    
  });
  const title=mk('text',{x:c.titleX,y:c.titleY,'text-anchor':'middle','font-size':60,fill:'#000',textLength:c.titleLen,lengthAdjust:'spacingAndGlyphs',transform:'rotate(-90 '+c.titleX+' '+c.titleY+')'},g,c.title);
  
  
  scoreCategories.forEach((name,i)=>{
    const px=xs[i],s=c.boxes[i],w=478;
    const whisker=mk('line',{x1:px,x2:px,y1:y(s[0]),y2:y(s[4]),stroke:'#000','stroke-width':4.5},g);
    
    
    const box=mk('rect',{x:px-w/2,y:y(s[3]),width:w,height:y(s[1])-y(s[3]),fill:fills[i],stroke:'#000','stroke-width':4.5},g);
    
    
    const median=mk('line',{x1:px-w/2,x2:px+w/2,y1:y(s[2]),y2:y(s[2]),stroke:'#000','stroke-width':9.5},g);
    
    
    c.outliers[i].forEach(o=>{
      const dot=mk('circle',{cx:px,cy:y(o),r:12,fill:'#000'},g);
      
      
    });
    const t=mk('line',{x1:px,x2:px,y1:4615,y2:4629,stroke:'#000','stroke-width':4},g);
    
    
    const l=mk('text',{x:px,y:4688,'text-anchor':'middle','font-size':60,fill:'#000'},g,name);
    
    
  });
  const bracket=mk('path',{d:'M'+c.xLow+' 3479V3447H'+c.xHigh+'V3479',fill:'none',stroke:'#000','stroke-width':2.6},g);
  
  
  const stars=mk('text',{x:c.starX,y:3456,'text-anchor':'middle','font-size':96,fill:'#000'},g,'***');
  
  
}

drawScorePanel({name:'panel-k-immune-score',ticks:immuneTicks,tickLabels:immuneTickLabels,boxes:immuneBoxes,outliers:immuneOutliers,v0:0,p0:4332,v1:3000,p1:3540,
  ax:444,right:1945,xLow:853,xHigh:1536,starX:1218,title:'ImmuneScore',titleX:216,titleY:4002,titleLen:375,legend:[903,1060,1169,1283,1394]});
drawScorePanel({name:'panel-l-estimate-score',ticks:estimateTicks,tickLabels:estimateTickLabels,boxes:estimateBoxes,outliers:estimateOutliers,v0:0,p0:4139,v1:4000,p1:3453,
  ax:2462,right:3961,xLow:2871,xHigh:3553,starX:3233,title:'ESTIMATEScore',titleX:2235,titleY:4004,titleLen:450,legend:[2921,3077,3186,3301,3410]});
drawScorePanel({name:'panel-m-stromal-score',ticks:stromalTicks,tickLabels:stromalTickLabels,boxes:stromalBoxes,outliers:stromalOutliers,v0:0,p0:3949,v1:1000,p1:3570,
  ax:4478,right:5979,xLow:4887,xHigh:5570,starX:5250,title:'StromalScore',titleX:4250,titleY:4004,titleLen:364,legend:[4937,5094,5202,5318,5427]});
</script>
</body>
</html>
